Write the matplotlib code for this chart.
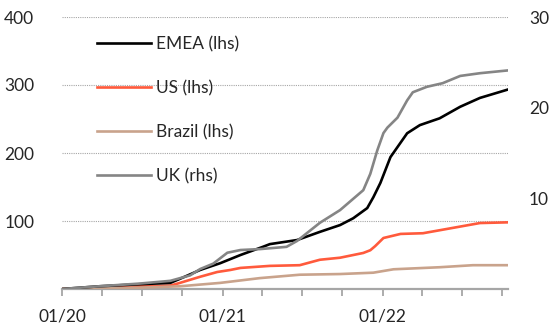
import matplotlib
matplotlib.use("Agg")
import matplotlib.pyplot as plt
import matplotlib.dates as mdates
import pandas as pd

plt.rcParams['font.family'] = ['Lato', 'DejaVu Sans']

# ---- data ----
emea_dates = ["2020-01-01", "2020-03-26", "2020-06-26", "2020-09-04", "2020-09-26",
              "2020-11-11", "2020-12-27", "2021-02-11", "2021-04-03", "2021-04-19",
              "2021-06-20", "2021-08-11", "2021-09-26", "2021-10-26", "2021-11-27",
              "2021-12-11", "2021-12-27", "2022-01-19", "2022-02-26", "2022-03-27",
              "2022-05-11", "2022-06-27", "2022-08-11", "2022-10-12"]
emea_vals = [0, 4, 7, 9, 15, 28, 38, 50, 62, 66, 72, 84, 94, 104, 119,
             135, 156, 194, 229, 241, 251, 268, 281, 293]

us_dates = ["2020-01-01", "2020-06-26", "2020-09-04", "2020-09-26", "2020-11-11",
            "2020-12-20", "2021-01-19", "2021-02-11", "2021-04-19", "2021-06-26",
            "2021-08-11", "2021-09-26", "2021-11-18", "2021-12-04", "2021-12-15",
            "2022-01-03", "2022-02-11", "2022-04-03", "2022-06-20", "2022-08-11",
            "2022-10-12"]
us_vals = [0, 4, 5, 9, 18, 25, 28, 31, 34, 35, 43, 46, 53, 57, 63,
           75, 81, 82, 91, 97, 98]

brazil_dates = ["2020-01-01", "2020-06-26", "2020-09-26", "2020-12-27", "2021-03-27",
                "2021-06-26", "2021-09-26", "2021-12-11", "2022-01-26", "2022-05-11",
                "2022-07-26", "2022-10-12"]
brazil_vals = [0, 2, 4, 9, 16, 21, 22, 24, 29, 32, 35, 35]

uk_dates = ["2020-01-01", "2020-03-26", "2020-06-26", "2020-09-04", "2020-10-19",
            "2020-11-11", "2020-12-11", "2021-01-12", "2021-02-11", "2021-03-27",
            "2021-05-27", "2021-06-20", "2021-08-11", "2021-09-26", "2021-11-18",
            "2021-12-04", "2021-12-20", "2022-01-03", "2022-01-12", "2022-02-04",
            "2022-02-26", "2022-03-11", "2022-04-12", "2022-05-18", "2022-06-27",
            "2022-08-11", "2022-10-12"]
uk_vals = [0, 0.3, 0.6, 0.9, 1.5, 2.2, 2.8, 4.0, 4.3, 4.4, 4.65, 5.3, 7.3, 8.7,
           10.9, 12.7, 15.3, 17.2, 17.8, 18.9, 20.8, 21.7, 22.3, 22.7, 23.5, 23.8, 24.1]

labels = ["EMEA (lhs)", "US (lhs)", "Brazil (lhs)", "UK (rhs)"]
colors = ["#000000", "#ff5a3c", "#c9a38c", "#858585"]
left_ticks = [100, 200, 300, 400]
right_ticks = [10, 20, 30]

# ---- figure ----
fig = plt.figure(figsize=(5.51, 3.28), dpi=100)
ax = fig.add_axes([62/551, 1-289/328, (508-62)/551, (289-17)/328])
ax2 = ax.twinx()

lw = 1.9
h1, = ax.plot(pd.to_datetime(emea_dates), emea_vals, color=colors[0], lw=lw, zorder=4)
h2, = ax.plot(pd.to_datetime(us_dates), us_vals, color=colors[1], lw=lw, zorder=3)
h3, = ax.plot(pd.to_datetime(brazil_dates), brazil_vals, color=colors[2], lw=lw, zorder=3)
h4, = ax2.plot(pd.to_datetime(uk_dates), uk_vals, color=colors[3], lw=lw)

ax.set_xlim(pd.Timestamp("2020-01-01"), pd.Timestamp("2022-10-14"))
ax.set_ylim(0, 400)
ax2.set_ylim(0, 30)
ax.set_yticks(left_ticks)
ax2.set_yticks(right_ticks)

for a in (ax, ax2):
    for s in ("top", "left", "right", "bottom"):
        a.spines[s].set_visible(False)
ax.spines["bottom"].set_visible(True)
ax.spines["bottom"].set_color("#a6a6a6")
ax.spines["bottom"].set_linewidth(1.6)

ax.grid(axis="y", linestyle=(0, (1, 1)), color="#a6a6a6", lw=0.8)
ax.set_axisbelow(True)

ax.xaxis.set_major_locator(mdates.MonthLocator(bymonth=[1, 4, 7, 10]))
ax.xaxis.set_major_formatter(plt.FuncFormatter(
    lambda v, p: mdates.num2date(v).strftime("%m/%y") if mdates.num2date(v).month == 1 else ""))
ax.tick_params(axis="x", direction="out", length=5, width=1.3, color="#a6a6a6",
               labelsize=12.5, pad=9, labelcolor="#262626")
ax.tick_params(axis="y", length=0, labelsize=12.5, pad=20, labelcolor="#262626")
ax2.tick_params(axis="y", length=0, labelsize=12.5, pad=15, labelcolor="#262626")

leg = ax.legend([h1, h2, h3, h4], labels, loc="upper left", bbox_to_anchor=(0.063, 0.955),
                frameon=False, fontsize=12.5, handlelength=3.1, handletextpad=0.3,
                labelspacing=1.6, borderaxespad=0)
for t in leg.get_texts():
    t.set_color("#262626")

fig.savefig("out.png", dpi=100)
